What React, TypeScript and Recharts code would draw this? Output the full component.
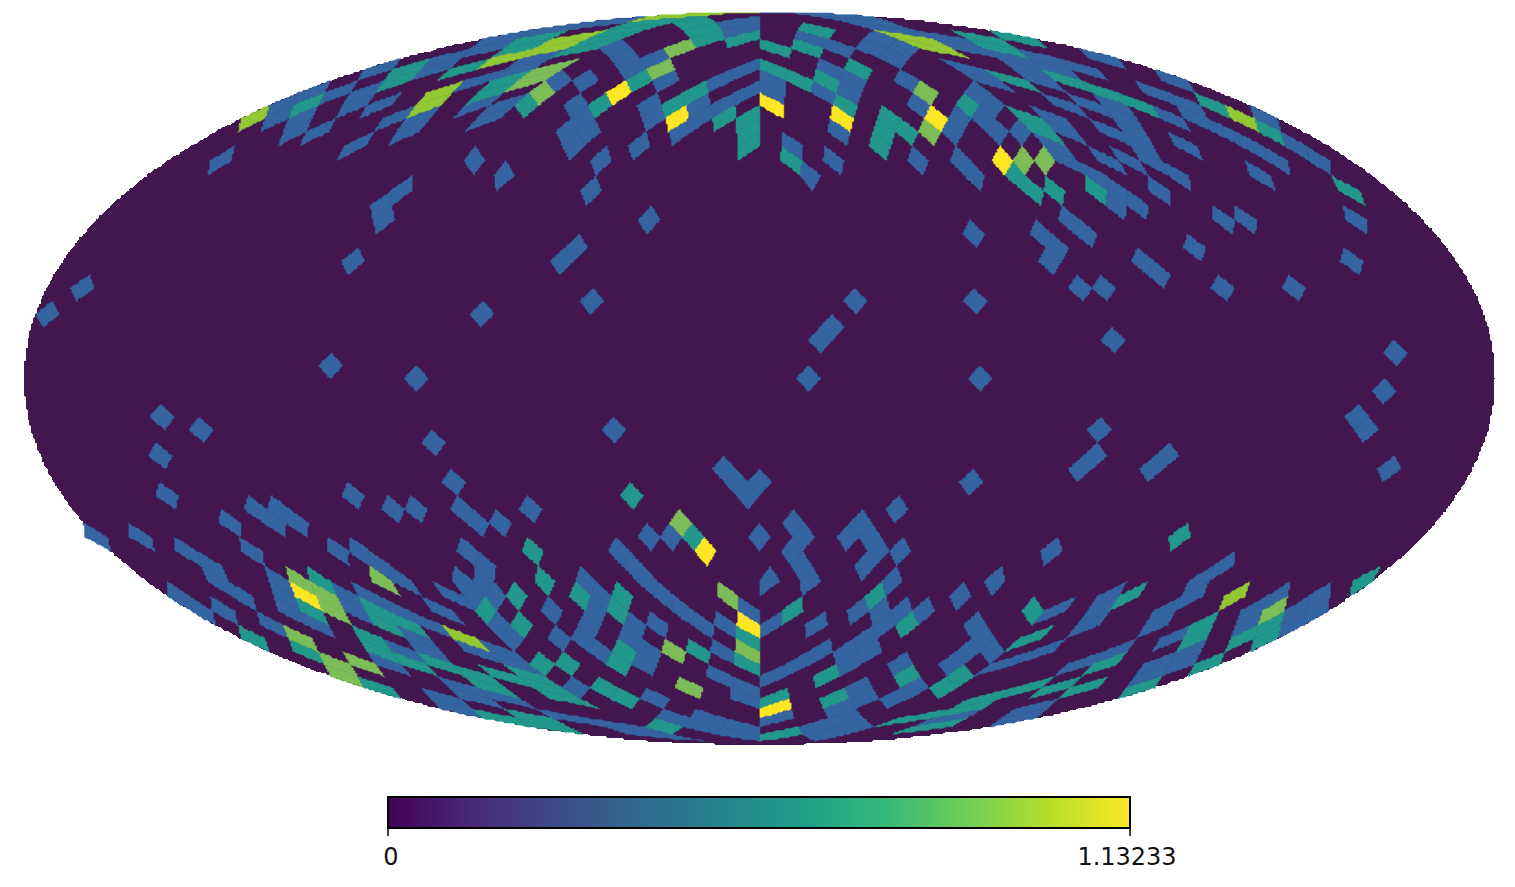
import { ScatterChart, Scatter, XAxis, YAxis, BarChart, Bar } from 'recharts'

// HEALPix nside=15 map in Mollweide view. Samples are read off the map plane,
// each one picks the sky pixel it falls in.
const NSIDE = 15
const MAP_X = [24, 1495]
const MAP_Y = [12, 745]
const MAX_VALUE = 1.13233

const LEVEL_VALUES = [0.3, 0.55, 0.8, 0.9, MAX_VALUE]
const LEVEL_COLORS = ['#3465a0', '#22978b', '#7cbd58', '#92c833', '#fde725']
const BACKGROUND_COLOR = '#43164f'

const BLUE = [
  [270,118],[280,105],[275,112],[290,96],[305,90],[318,86],[328,97],[340,90],[350,85],[285,137],[298,128],[306,121],
  [305,139],[320,130],[332,120],[345,112],[355,100],[368,90],[375,86],[362,75],[375,70],[390,62],[370,111],[382,104],[395,96],
  [343,155],[355,146],[368,135],[425,70],[440,62],[455,56],[470,52],[485,46],[497,42],[380,127],[392,119],[403,112],
  [395,140],[408,130],[420,118],[428,112],[428,97],[442,90],[455,84],[462,112],[475,106],[490,98],[473,127],[485,120],[497,112],
  [495,75],[474,158],[503,173],[214,165],[226,152],
  [510,37],[530,32],[550,28],[570,24],[590,20],[610,17],[630,16],[495,77],[510,70],[530,62],[550,57],[565,55],
  [485,118],[498,112],[510,105],[553,85],[563,75],[585,78],[610,45],[622,50],[632,62],[625,62],[640,68],[650,60],[660,52],
  [730,30],[745,25],[665,82],[575,105],[585,115],[570,135],[580,125],[585,140],[570,148],[590,130],[600,158],[592,190],
  [638,145],[650,105],[650,120],[645,115],[700,110],[690,120],[680,133],[695,105],[715,85],[730,77],[745,68],[755,62],
  [725,102],[740,92],[752,87],[648,218],[575,245],[565,258],
  [770,75],[770,90],[805,34],[825,40],[845,47],[850,22],[865,27],[880,33],[895,42],[905,52],[897,60],[885,50],[840,14],
  [960,33],[975,38],[955,42],[975,50],[990,52],[1010,62],[1025,70],[1037,78],[970,72],[985,80],[1000,85],
  [830,65],[845,75],[855,85],[850,93],[822,92],[840,132],[917,158],[833,158],[790,143],[812,177],[905,78],[915,108],
  [965,95],[980,100],[990,110],[955,120],[970,120],[985,125],[1000,128],[960,130],[1020,132],[960,158],[972,170],
  [1045,113],[1060,122],[1075,135],[1060,150],[1072,160],[1085,170],[1097,178],[1110,190],[1120,200],[1117,205],[1137,205],
  [1068,215],[1082,230],[1090,240],[1040,232],[1052,245],[1060,250],[1050,262],[1079,288],[1108,282],[1142,258],[1157,272],
  [1160,190],[1194,247],[1222,288],[1294,288],[1353,260],[1355,220],[1222,217],[1245,218],[1255,168],[1268,180],
  [1178,140],[1192,150],[1125,122],[1138,130],[1148,145],[1155,160],[1170,170],[1185,180],[1100,125],[1112,135],
  [1095,152],[1108,160],[1120,170],[1125,155],[1138,167],[1055,98],[1070,105],[1082,112],[1080,98],[1095,106],[1110,102],[1125,110],
  [1015,62],[1030,70],[1045,78],[1055,85],[1040,60],[1060,68],[1070,62],[1085,68],[1100,76],[1090,50],[1105,56],[1118,62],
  [1165,72],[1180,80],[1190,85],[1145,85],[1160,92],[1175,100],[1190,105],[1200,115],[1210,125],[1220,135],[1190,115],[1165,112],[1180,118],
  [1225,130],[1240,140],[1255,150],[1270,160],[1282,168],[1262,112],[1275,122],[1290,140],[1305,150],[1320,162],
  [166,497],[255,505],[270,512],[280,510],[290,525],[300,530],[278,525],[228,524],[352,497],[392,510],[415,510],[140,537],[186,552],[252,553],
  [337,550],[355,550],[370,565],[385,575],[400,585],[415,593],[98,537],[210,575],[225,585],[235,590],[225,577],[240,600],[255,610],[270,625],
  [175,592],[190,605],[205,617],[218,607],[230,620],[275,580],[285,595],[295,610],[310,620],[322,630],[345,600],[360,615],
  [365,595],[385,603],[405,612],[410,640],[400,650],[415,655],[385,665],[400,672],
  [468,552],[460,575],[475,580],[490,575],[497,590],[510,600],[480,595],[490,610],[505,625],[520,640],[550,600],[560,615],[555,630],
  [410,590],[425,600],[440,610],[440,590],[455,597],[410,615],[425,622],[425,648],[490,655],[505,655],[515,665],[483,645],
  [445,680],[460,690],[475,700],[490,705],[460,700],[435,697],[450,705],[510,700],[525,705],[545,712],[565,718],[520,725],[490,725],[510,730],
  [648,537],[671,538],[722,470],[733,482],[745,495],[757,490],[765,480],[617,548],[628,558],[640,570],[652,582],[665,595],[677,605],[690,612],[700,620],
  [680,615],[695,622],[690,610],[655,620],[665,632],[748,608],[725,627],[720,650],[720,675],[735,685],[745,695],[710,715],[735,727],[750,733],
  [650,700],[665,705],[680,715],[660,715],[585,580],[597,595],[590,610],[585,622],[580,640],[595,648],[645,650],[640,665],[635,625],[635,640],
  [578,688],[590,720],[610,725],[635,733],[690,727],[710,733],
  [759,537],[790,520],[795,535],[800,550],[805,565],[810,580],[785,525],[768,582],[860,520],[850,535],[865,535],[875,550],[865,565],[898,508],[900,550],
  [770,632],[817,627],[850,620],[865,610],[880,600],[890,585],[895,610],[875,625],[860,635],[895,575],[870,615],[925,610],[960,597],
  [850,655],[865,650],[845,665],[870,645],[770,680],[785,672],[800,665],[815,655],[830,645],[900,663],[920,687],[863,690],[840,712],[860,705],
  [890,703],[905,697],[920,690],[775,720],[815,730],[835,725],[855,723],[825,738],[845,733],[955,665],[968,655],
  [1050,551],[995,581],[1045,615],[1060,608],[1095,608],[1110,598],[1122,588],[1145,630],[1160,615],[1175,608],[1190,602],[1150,620],
  [1192,590],[1205,580],[1220,568],[1232,558],[1245,625],[1260,605],[1278,592],[1245,610],[1295,625],[1310,610],[1325,595],[1290,615],
  [1180,665],[1195,650],[1205,635],[1165,645],[1140,683],[1155,675],[1170,660],[1070,670],[1090,660],[1110,650],[1125,645],
  [1000,663],[1020,655],[1040,650],[1060,642],[1075,635],[975,650],[985,640],[990,655],[975,635],[960,660],[970,715],[1005,722],[1020,715],[1035,708],
  [1085,690],[1100,680],
  [82,288],[47,313],[329,365],[415,378],[480,313],[591,300],[350,260],[400,190],[385,210],[380,222],[835,322],[820,340],[855,300],[808,378],[975,300],[980,378],
  [1112,339],[1395,352],[1385,390],[1355,415],[1368,430],[1388,468],[1100,430],[1095,455],[1080,472],[1168,452],[1150,472],[970,483],[975,232],
  [160,415],[200,430],[160,455],[432,443],[613,430],[453,483],[460,507],[475,523],[497,522],[528,510],
]

const TEAL = [
  [297,106],[310,100],[382,87],[395,80],[410,72],[482,64],[495,57],[473,100],[485,94],[497,87],
  [490,62],[505,55],[520,47],[535,42],[605,31],[620,27],[640,24],[655,22],[563,52],[580,47],[600,42],[485,95],[498,89],[510,83],[525,103],
  [695,35],[710,30],[700,25],[715,37],[735,42],[750,37],[638,78],[597,104],[670,107],[685,97],[700,88],[722,118],[747,120],[747,135],[747,148],
  [765,42],[780,48],[810,25],[825,30],[800,42],[815,50],[985,42],[1000,47],[1015,52],[1000,32],[1020,37],[1035,42],[995,72],[1010,78],[1028,86],
  [765,62],[780,70],[795,77],[808,85],[825,80],[858,67],[845,103],[890,115],[878,132],[885,147],[905,128],[790,158],[968,103],
  [1020,175],[1035,185],[1050,180],[1055,190],[1015,110],[1030,118],[1045,128],[1055,138],[1097,190],[1342,185],[1355,197],
  [1050,72],[1065,78],[1080,85],[1095,90],[1110,95],[1125,100],[1140,105],[1152,110],[1010,48],[1205,97],[1220,107],[1262,125],[1275,135],
  [245,635],[258,645],[315,574],[328,587],[305,610],[320,620],[365,605],[380,617],[395,625],[415,632],[362,635],[375,650],[390,655],[400,660],[415,668],
  [298,650],[312,657],[335,675],[350,682],[368,680],[382,688],
  [530,553],[486,612],[516,598],[521,627],[543,583],[540,665],[568,665],[408,625],[422,635],[410,662],[425,670],[460,673],[478,680],[495,687],
  [490,672],[510,678],[525,685],[520,672],[540,680],[553,687],[480,713],[495,720],[515,713],[535,722],[555,730],[545,692],[565,700],
  [632,497],[693,537],[698,653],[620,597],[618,612],[578,597],[622,650],[620,665],[600,685],[615,695],[630,705],[655,725],[670,730],[578,700],[748,638],[746,665],
  [792,612],[876,598],[907,627],[827,678],[907,678],[835,700],[773,698],[775,737],[795,735],[900,722],[915,718],[935,712],[945,710],[925,728],[945,725],
  [960,705],[970,700],[945,690],[958,680],[968,672],
  [1180,537],[1032,612],[1125,600],[1140,590],[1235,645],[1250,635],[1268,630],[1275,640],[1260,645],[1358,590],[1372,578],[1192,635],[1210,622],
  [1200,672],[1218,660],[1130,695],[1150,685],[1040,695],[1060,690],[1080,685],[1095,670],[1110,660],[1120,656],[970,705],[990,698],[1010,695],[1030,690],[1048,682],
  [965,675],[1015,648],[1030,640],[1048,630],
]

const GREEN = [
  [520,85],[532,77],[545,70],[556,64],[540,92],[678,46],[660,68],[925,92],[930,132],[1024,158],[1045,158],
  [290,635],[305,645],[325,660],[340,668],[350,675],[352,660],[368,668],[688,688],[748,652],[1265,617],[1280,605],
  [680,523],[375,577],[388,590],[673,653],[728,597],[295,575],[310,588],[325,598],[337,608],
]

const LIME = [
  [245,122],[258,113],[415,112],[428,105],[442,96],[650,15],[670,14],[695,13],[530,52],[545,47],[560,43],[572,41],
  [885,32],[905,38],[925,42],[940,47],[955,52],[1235,110],[1248,120],[450,632],[465,640],[480,648],[1228,605],[1242,592],
]

const YELLOW = [
  [618,92],[677,118],[770,103],[842,118],[935,118],[1002,158],[298,590],[310,602],[706,552],[748,627],[775,710],
]

const VIRIDIS_STOPS = ['#440154', '#482878', '#3e4989', '#31688e', '#26828e', '#1f9e89', '#35b779', '#6ece58', '#b5de2b', '#fde725']

const STEP = Math.PI / (4 * NSIDE)
const PARITY = (NSIDE + 1) % 2
const GRID = 1.84

const centerX = (MAP_X[0] + MAP_X[1]) / 2
const centerY = (MAP_Y[0] + MAP_Y[1]) / 2
const radiusX = (MAP_X[1] - MAP_X[0]) / 2
const radiusY = (MAP_Y[1] - MAP_Y[0]) / 2

function mollweideAngle(z: number) {
  let lo = -Math.PI / 2
  let hi = Math.PI / 2
  for (let i = 0; i < 34; i++) {
    const mid = (lo + hi) / 2
    if (2 * mid + Math.sin(2 * mid) < Math.PI * z) lo = mid
    else hi = mid
  }
  return (lo + hi) / 2
}

// map plane -> lattice cell (u, v)
function snapToCell(x: number, y: number) {
  const g = Math.asin(Math.max(-1, Math.min(1, (centerY - y) / radiusY)))
  const z = (2 * g + Math.sin(2 * g)) / Math.PI
  let lon = (Math.PI * (x - centerX)) / radiusX / Math.max(Math.cos(g), 0.02)
  lon = Math.max(-Math.PI + 1e-4, Math.min(Math.PI - 1e-4, lon))
  let xs = lon
  let ys = (3 * Math.PI * z) / 8
  if (Math.abs(z) > 2 / 3) {
    const s = Math.sqrt(3 * (1 - Math.abs(z)))
    const fc = (Math.floor((lon + Math.PI) / (Math.PI / 2)) + 0.5) * (Math.PI / 2) - Math.PI
    xs = fc + (lon - fc) * s
    ys = (Math.sign(z) * Math.PI * (2 - s)) / 4
  }
  const u0 = xs / STEP
  const v0 = ys / STEP
  const a = 2 * Math.round((u0 + v0 - PARITY) / 2) + PARITY
  const b = 2 * Math.round((u0 - v0 - PARITY) / 2) + PARITY
  return { u: (a + b) / 2, v: (a - b) / 2 }
}

function project(u: number, v: number, uc: number) {
  let lon = u * STEP
  let z = (2 * v) / (3 * NSIDE)
  if (Math.abs(v) > NSIDE) {
    const s = 2 - Math.abs(v) / NSIDE
    const fc = uc * STEP
    z = Math.sign(v) * (1 - (s * s) / 3)
    lon = s > 1e-6 ? fc + (lon - fc) / s : fc
  }
  const g = mollweideAngle(z)
  return [centerX + (radiusX * lon * Math.cos(g)) / Math.PI, centerY - radiusY * Math.sin(g)]
}

function buildCells() {
  const byKey = new Map<string, { u: number; v: number; level: number }>()
  ;[BLUE, TEAL, GREEN, LIME, YELLOW].forEach((samples, level) => {
    samples.forEach(([x, y]) => {
      const c = snapToCell(x, y)
      byKey.set(c.u + '/' + c.v, { ...c, level })
    })
  })
  return [...byKey.values()].map(({ u, v, level }) => {
    const uc = Math.floor(u / (2 * NSIDE)) * 2 * NSIDE + NSIDE
    const [x, y] = project(u, v, uc)
    const corners = [[u, v + 1], [u + 1, v], [u, v - 1], [u - 1, v]]
    const outline: number[][] = []
    corners.forEach((p, i) => {
      const q = corners[(i + 1) % 4]
      for (let k = 0; k < 12; k++) {
        const t = k / 12
        const [px, py] = project(p[0] + (q[0] - p[0]) * t, p[1] + (q[1] - p[1]) * t, uc)
        outline.push([px - x, py - y])
      }
    })
    return { x, y, value: LEVEL_VALUES[level], level, outline }
  })
}

const cells = buildCells()
const mapCenter = [{ x: centerX, y: centerY }]
const colorbarData = [{ name: 'value', value: MAX_VALUE }]

// the reference is a raster, so outlines snap to its pixel grid;
// neighbours share the same snapped points and leave no gap
function stairPath(points: number[][]) {
  const snap = (n: number) => (Math.round(n / GRID) * GRID).toFixed(1)
  return 'M' + points.map(([x, y]) => snap(x) + ' ' + snap(y)).join('L') + 'Z'
}

function CellShape(props: any) {
  const { cx, cy, payload } = props
  const d = stairPath(payload.outline.map(([dx, dy]: number[]) => [cx + dx, cy + dy]))
  return <path d={d} fill={LEVEL_COLORS[payload.level]} stroke={LEVEL_COLORS[payload.level]} strokeWidth={0.5} />
}

function SkyShape(props: any) {
  const { cx, cy } = props
  const pts: number[][] = []
  for (let i = 0; i < 1600; i++) {
    const t = (i / 1600) * Math.PI * 2
    pts.push([cx + radiusX * Math.cos(t), cy + radiusY * Math.sin(t)])
  }
  return <path d={stairPath(pts)} fill={BACKGROUND_COLOR} shapeRendering="crispEdges" />
}

function ColorbarTick(props: any) {
  const { x, y, payload } = props
  const inset = payload.value === 0 ? 3 : -3
  return (
    <text x={x + inset} y={y + 27} textAnchor="middle" fill="#111" fontSize={24} fontFamily="DejaVu Sans">
      {payload.value}
    </text>
  )
}

export default function App() {
  return (
    <div style={{ position: 'absolute', left: 0, top: 0, width: 1515, height: 887, background: '#fff' }}>
      <ScatterChart width={1515} height={760} margin={{ left: 24, right: 20, top: 12, bottom: 15 }}>
        <XAxis type="number" dataKey="x" domain={MAP_X} hide allowDataOverflow />
        <YAxis type="number" dataKey="y" domain={MAP_Y} reversed hide allowDataOverflow />
        <Scatter data={mapCenter} shape={SkyShape} isAnimationActive={false} />
        <Scatter data={cells} shape={CellShape} isAnimationActive={false} />
      </ScatterChart>
      <div style={{ position: 'absolute', left: 0, top: 780 }}>
        <BarChart
          width={1515}
          height={100}
          layout="vertical"
          data={colorbarData}
          barCategoryGap={0}
          margin={{ left: 388, right: 385, top: 17, bottom: 0 }}
        >
          <defs>
            <linearGradient id="viridis" x1="0" y1="0" x2="1" y2="0">
              {VIRIDIS_STOPS.map((c, i) => (
                <stop key={c} offset={i / (VIRIDIS_STOPS.length - 1)} stopColor={c} />
              ))}
            </linearGradient>
          </defs>
          <XAxis
            type="number"
            domain={[0, MAX_VALUE]}
            ticks={[0, MAX_VALUE]}
            interval={0}
            height={52}
            axisLine={false}
            tickLine={{ stroke: '#000', strokeWidth: 1.5 }}
            tickSize={8}
            tick={<ColorbarTick />}
          />
          <YAxis type="category" dataKey="name" hide />
          <Bar dataKey="value" fill="url(#viridis)" stroke="#000" strokeWidth={2} isAnimationActive={false} />
        </BarChart>
      </div>
    </div>
  )
}
